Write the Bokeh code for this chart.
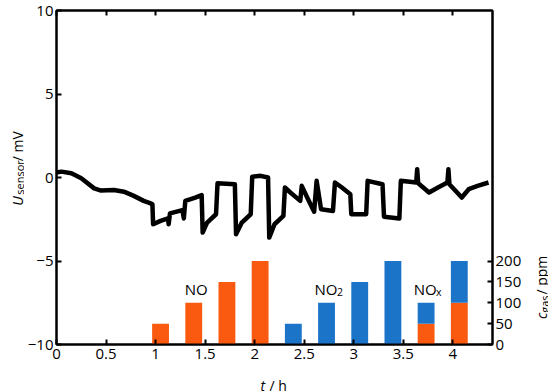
import math
from bokeh.plotting import figure
from bokeh.layouts import row, column
from bokeh.models import Range1d, LinearAxis, FixedTicker, Label
from bokeh.core.properties import value
from bokeh.embed import file_html
from bokeh.resources import INLINE

# ---- data ----
t_sig = [0.00, 0.05, 0.15, 0.25, 0.38, 0.45, 0.58, 0.68, 0.78, 0.88, 0.95, 0.968, 0.975,
         1.05, 1.125, 1.132, 1.145, 1.27, 1.285, 1.30, 1.40, 1.465, 1.475, 1.52, 1.61,
         1.625, 1.80, 1.812, 1.87, 1.96, 1.975, 2.06, 2.135, 2.147, 2.20, 2.29, 2.305,
         2.36, 2.46, 2.475, 2.53, 2.60, 2.625, 2.67, 2.79, 2.81, 2.88, 2.965, 2.975,
         3.125, 3.14, 3.29, 3.305, 3.46, 3.475, 3.63, 3.64, 3.65, 3.76, 3.85, 3.945,
         3.955, 3.965, 4.09, 4.16, 4.25, 4.36]
u_sig = [0.30, 0.35, 0.25, -0.05, -0.65, -0.78, -0.75, -0.85, -1.10, -1.40, -1.55, -1.60, -2.80,
         -2.60, -2.45, -2.80, -2.15, -1.95, -2.45, -1.40, -1.20, -1.05, -3.30, -2.70, -2.20,
         -0.35, -0.40, -3.40, -2.70, -2.20, 0.05, 0.10, 0.00, -3.60, -2.80, -2.30, -0.60,
         -0.90, -1.40, -0.50, -1.20, -2.05, -0.20, -1.90, -2.00, -0.30, -0.60, -1.00, -2.20,
         -2.20, -0.20, -0.40, -2.35, -2.45, -0.20, -0.30, 0.50, -0.35, -0.90, -0.60, -0.30,
         0.50, -0.40, -1.20, -0.70, -0.50, -0.30]

no_t = [1.05, 1.385, 1.72, 2.055]
no_c = [50, 100, 150, 200]
no2_t = [2.39, 2.725, 3.06, 3.395]
no2_c = [50, 100, 150, 200]
nox_t = [3.73, 4.065]
nox_no = [50, 100]
nox_no2 = [50, 100]

x_ticks = [0, 0.5, 1, 1.5, 2, 2.5, 3, 3.5, 4]
x_tick_labels = ["0", "0.5", "1", "1.5", "2", "2.5", "3", "3.5", "4"]
y_ticks = [-10, -5, 0, 5, 10]
y_tick_labels = ["\u221210", "\u22125", "0", "5", "10"]
c_ticks = [0, 50, 100, 150, 200]
c_tick_labels = ["0", "50", "100", "150", "200"]

ORANGE = "#FA5A0F"
BLUE = "#1B74C8"
FONT = "Open Sans"
FS = "15px"      # tick labels / gas names
TS = "14px"      # axis titles
SUB = "11px"     # subscripts in axis titles
SUB2 = "10.5px"  # subscripts of gas names

# ---- layout geometry (pixels) ----
L_W, R_W = 24, 24
MAIN_W = 500
MAIN_H = 368
BOT_H = 24
TOTAL_W = L_W + MAIN_W + R_W

p = figure(width=MAIN_W, height=MAIN_H, x_range=Range1d(0, 4.4), y_range=Range1d(-10, 10),
           output_backend="svg", toolbar_location=None,
           x_axis_type=None, y_axis_type=None,
           min_border_left=31, min_border_right=29, min_border_top=10, min_border_bottom=24)
p.extra_y_ranges = {"ppm": Range1d(0, 800)}
p.outline_line_color = "black"
p.outline_line_width = 2
p.background_fill_color = "white"
p.border_fill_color = "white"


def style_axis(ax, labels=True):
    ax.axis_line_width = 2
    ax.axis_line_color = "black"
    ax.major_tick_in = 5
    ax.major_tick_out = 0
    ax.major_tick_line_width = 2
    ax.minor_tick_line_color = None
    ax.major_label_text_font = FONT
    ax.major_label_text_color = "black"
    if labels:
        ax.major_label_text_font_size = FS
    else:
        ax.major_label_text_font_size = "1px"
        ax.major_label_text_color = None
        ax.major_label_standoff = 0


bottom = LinearAxis(ticker=FixedTicker(ticks=x_ticks),
                    major_label_overrides={k: v for k, v in zip(x_ticks, x_tick_labels)})
style_axis(bottom)
bottom.major_label_standoff = 4
p.add_layout(bottom, "below")

top = LinearAxis(ticker=FixedTicker(ticks=x_ticks))
style_axis(top, labels=False)
p.add_layout(top, "above")

left = LinearAxis(ticker=FixedTicker(ticks=y_ticks),
                  major_label_overrides={k: v for k, v in zip(y_ticks, y_tick_labels)})
style_axis(left)
left.major_label_standoff = 3
p.add_layout(left, "left")

right = LinearAxis(y_range_name="ppm", ticker=FixedTicker(ticks=c_ticks),
                   major_label_overrides={k: v for k, v in zip(c_ticks, c_tick_labels)})
style_axis(right)
right.major_label_standoff = 3
p.add_layout(right, "right")

# bars
W = 0.17
p.vbar(x=no_t, width=W, bottom=0, top=no_c, y_range_name="ppm",
       fill_color=ORANGE, line_color=None)
p.vbar(x=no2_t, width=W, bottom=0, top=no2_c, y_range_name="ppm",
       fill_color=BLUE, line_color=None)
p.vbar(x=nox_t, width=W, bottom=0, top=nox_no, y_range_name="ppm",
       fill_color=ORANGE, line_color=None)
p.vbar(x=nox_t, width=W, bottom=nox_no, top=[a + b for a, b in zip(nox_no, nox_no2)],
       y_range_name="ppm", fill_color=BLUE, line_color=None)

# signal
p.line(t_sig, u_sig, line_color="black", line_width=4.5, line_join="round")


def lab(text, x, y, size=FS, align="left", x_offset=0, y_offset=0):
    p.add_layout(Label(x=x, y=y, text=text, text_font=FONT, text_font_size=size,
                       text_align=align, text_baseline="alphabetic", text_color="black",
                       x_offset=x_offset, y_offset=y_offset))


# gas labels
lab("NO", 1.41, -6.65, align="center")
lab("NO", 2.72, -6.65, align="center")
lab("2", 2.72, -6.65, size=SUB2, x_offset=11, y_offset=-3)
lab("NO", 3.72, -6.65, align="center")
lab("x", 3.72, -6.65, size=SUB2, x_offset=11, y_offset=-3)


# ---- strips holding the axis titles (pixel coordinates, y upwards) ----
def strip(w, h):
    s = figure(width=w, height=h, x_range=Range1d(0, w), y_range=Range1d(0, h),
               output_backend="svg", toolbar_location=None,
               x_axis_type=None, y_axis_type=None, min_border=0)
    s.outline_line_color = None
    s.background_fill_color = "white"
    s.border_fill_color = "white"
    return s


def txt(fig, x, y, text, size=TS, italic=False, angle=0.0):
    fig.text(x=[x], y=[y], text=[text], angle=angle,
             text_font=value(FONT), text_font_size=value(size),
             text_font_style="italic" if italic else "normal",
             text_align="left", text_baseline="alphabetic", text_color="black")


A = math.pi / 2
ls = strip(L_W, MAIN_H)
txt(ls, 17, 153, "U", italic=True, angle=A)
txt(ls, 18.5, 165, "sensor", size=SUB, angle=A)
txt(ls, 17, 202, "/ mV", angle=A)

rs = strip(R_W, MAIN_H)
txt(rs, 17, 28, "c", italic=True, angle=A)
txt(rs, 19.5, 35, "gas", size=SUB, angle=A)
txt(rs, 17, 55, "/ ppm", angle=A)

bs = strip(TOTAL_W, BOT_H)
txt(bs, 260, 7, "t", italic=True)
txt(bs, 269, 7, "/ h")

page = column(row(ls, p, rs), bs)
open("out.html", "w").write(file_html(page, INLINE))
